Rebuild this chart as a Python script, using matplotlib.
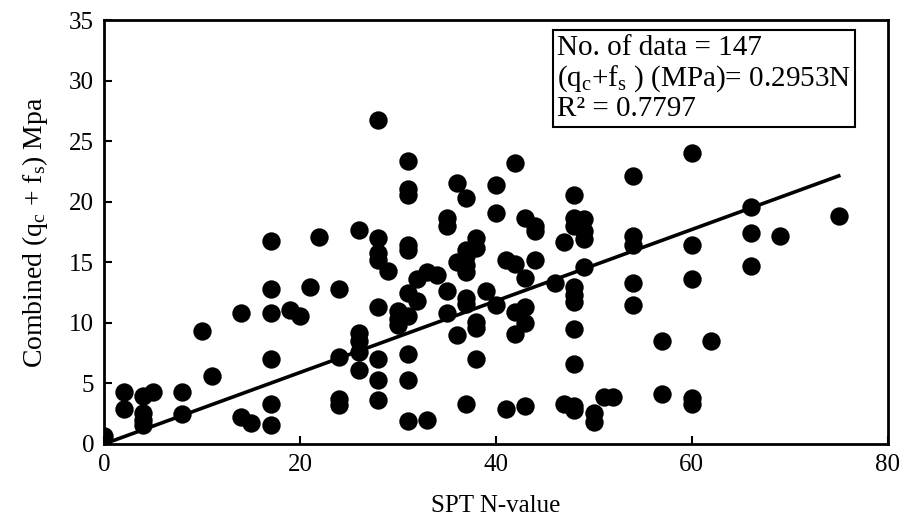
import matplotlib
matplotlib.use("Agg")
import matplotlib.pyplot as plt
import numpy as np

# SPT N-value vs combined (qc + fs)
spt_n = [0,
         2, 2,
         4, 4, 4, 4,
         5,
         8, 8,
         10, 11,
         14, 14, 15,
         17, 17, 17, 17, 17, 17,
         19, 20, 21, 22,
         24, 24, 24, 24,
         26, 26, 26, 26, 26,
         28, 28, 28, 28, 28, 28, 28, 28,
         29,
         30, 30, 30,
         31, 31, 31, 31, 31, 31, 31, 31, 31, 31,
         32, 32,
         33, 33, 34,
         35, 35, 35, 35,
         36, 36, 36,
         37, 37, 37, 37, 37, 37, 37, 37,
         38, 38, 38, 38, 38,
         39,
         40, 40, 40,
         41, 41,
         42, 42, 42, 42,
         43, 43, 43, 43, 43,
         44, 44, 44,
         46,
         47, 47,
         48, 48, 48, 48, 48, 48, 48, 48, 48, 48,
         49, 49, 49, 49,
         50, 50, 51, 52,
         54, 54, 54, 54, 54,
         57, 57,
         60, 60, 60, 60, 60,
         62,
         66, 66, 66,
         69, 75]
qc_fs = [0.7,
         4.3, 2.9,
         4.0, 2.6, 2.0, 1.6,
         4.3,
         4.3, 2.5,
         9.3, 5.6,
         10.8, 2.2, 1.7,
         16.8, 12.8, 10.8, 7.0, 3.3, 1.6,
         11.1, 10.6, 13.0, 17.1,
         12.8, 7.2, 3.7, 3.2,
         17.7, 9.2, 8.5, 7.6, 6.1,
         26.8, 17.0, 15.8, 15.2, 11.3, 7.0, 5.3, 3.6,
         14.3,
         11.0, 10.3, 9.8,
         23.4, 21.1, 20.6, 16.4, 16.0, 12.5, 10.6, 7.4, 5.3, 1.9,
         13.6, 11.8,
         14.2, 2.0, 14.0,
         18.7, 18.0, 12.6, 10.8,
         21.6, 15.0, 9.0,
         20.3, 16.0, 15.5, 14.8, 14.2, 12.1, 11.6, 3.3,
         17.0, 16.2, 10.1, 9.6, 7.0,
         12.6,
         21.4, 19.1, 11.5,
         15.2, 2.9,
         23.2, 14.9, 10.9, 9.1,
         18.7, 13.7, 11.3, 10.0, 3.1,
         18.0, 17.6, 15.2,
         13.3,
         16.7, 3.3,
         20.6, 18.7, 18.0, 13.0, 12.3, 11.7, 9.5, 6.6, 3.1, 2.8,
         18.6, 17.6, 16.9, 14.6,
         2.6, 1.8, 3.9, 3.9,
         22.1, 17.2, 16.4, 13.3, 11.5,
         8.5, 4.1,
         24.0, 16.4, 13.6, 3.8, 3.3,
         8.5,
         19.6, 17.4, 14.7,
         17.2, 18.8]

slope = 0.2953
fit_x = [0, 75]

plt.rcParams['font.family'] = ['Liberation Serif', 'DejaVu Serif']
plt.rcParams['mathtext.fontset'] = 'custom'
plt.rcParams['mathtext.rm'] = 'Liberation Serif'
plt.rcParams['mathtext.it'] = 'Liberation Serif'

fig = plt.figure(figsize=(9.04, 5.27), dpi=100)
ax = fig.add_axes([0.115, 0.1575, 0.867, 0.804])

ax.scatter(spt_n, qc_fs, s=175, color='black', zorder=3, linewidths=0)
ax.plot(fit_x, [slope * x for x in fit_x], color='black', lw=2.6, zorder=4)

ax.set_xlim(0, 80)
ax.set_ylim(0, 35)
ax.set_xticks(range(0, 81, 20))
ax.set_yticks(range(0, 36, 5))
ax.tick_params(direction='in', length=6, width=1.5, labelsize=18, pad=7)
for sp in ax.spines.values():
    sp.set_linewidth(2)

ax.set_xlabel('SPT N-value', fontsize=18, labelpad=14)
ax.set_ylabel(r'Combined (q$_\mathrm{c}$ + f$_\mathrm{s}$) Mpa', fontsize=20, labelpad=14)

ax.text(0.578, 0.966,
        'No. of data = 147\n'
        r'(q$_\mathrm{c}$+f$_\mathrm{s}$ ) (MPa)= 0.2953N' '\n'
        'R² = 0.7797',
        transform=ax.transAxes, ha='left', va='top', fontsize=21,
        linespacing=1.12, zorder=5,
        bbox=dict(boxstyle='square,pad=0.15', facecolor='white',
                  edgecolor='black', linewidth=1.5))

fig.savefig('out.png', dpi=100)
